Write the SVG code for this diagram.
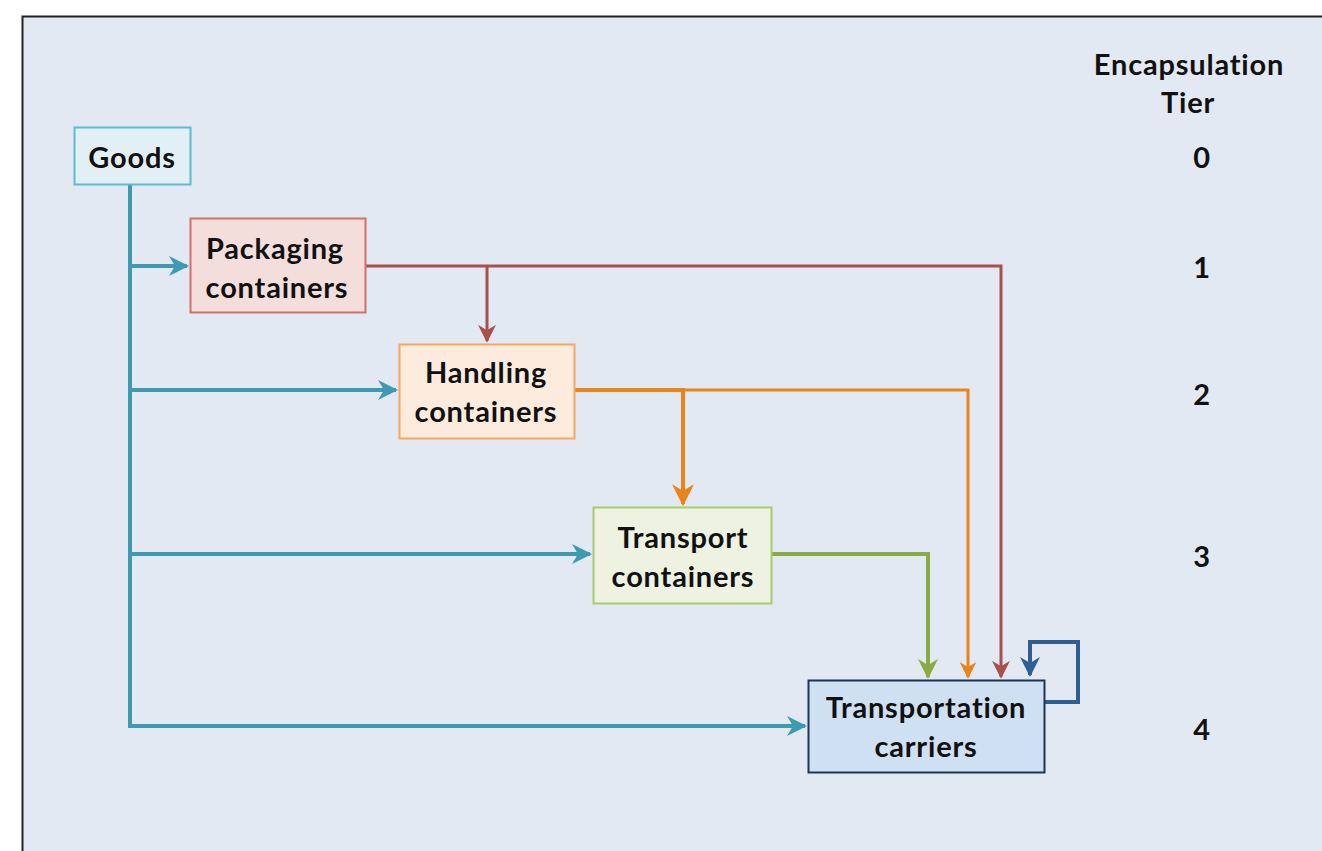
<svg xmlns="http://www.w3.org/2000/svg" width="1322" height="851" viewBox="0 0 1322 851">
<style>
.lbl{font-family:"Lato","Open Sans","Liberation Sans",sans-serif;font-weight:700;font-size:29px;letter-spacing:0.8px;fill:#111;text-anchor:middle}
.tier{font-family:"Lato","Open Sans","Liberation Sans",sans-serif;font-weight:700;font-size:29px;letter-spacing:0.8px;fill:#111;text-anchor:middle}
.c{fill:none;stroke-linejoin:miter}
</style>
<defs>
<marker id="aT" viewBox="0 0 10 10" refX="9" refY="5" markerWidth="5" markerHeight="5" orient="auto" markerUnits="strokeWidth"><path d="M0,0 L10,5 L0,10 L3,5 z" fill="#3E9AAE"/></marker>
<marker id="aR" viewBox="0 0 10 10" refX="9" refY="5" markerWidth="6" markerHeight="6" orient="auto" markerUnits="strokeWidth"><path d="M0,0 L10,5 L0,10 L3,5 z" fill="#A94F4C"/></marker>
<marker id="aO" viewBox="0 0 10 10" refX="9" refY="5" markerWidth="5.5" markerHeight="5.5" orient="auto" markerUnits="strokeWidth"><path d="M0,0 L10,5 L0,10 L3,5 z" fill="#E8841A"/></marker>
<marker id="aG" viewBox="0 0 10 10" refX="9" refY="5" markerWidth="5" markerHeight="5" orient="auto" markerUnits="strokeWidth"><path d="M0,0 L10,5 L0,10 L3,5 z" fill="#8AAA48"/></marker>
<marker id="aB" viewBox="0 0 10 10" refX="9" refY="5" markerWidth="5" markerHeight="5" orient="auto" markerUnits="strokeWidth"><path d="M0,0 L10,5 L0,10 L3,5 z" fill="#2E5E92"/></marker>
</defs>
<rect x="0" y="0" width="1322" height="851" fill="#ffffff"/>
<rect x="22.5" y="16.5" width="1320" height="850" fill="#E2E9F3" stroke="#222" stroke-width="2"/>

<g id="connectors">
<path class="c" d="M130,185 V726 H805" stroke="#3E9AAE" stroke-width="4" marker-end="url(#aT)"/>
<path class="c" d="M130,266 H187" stroke="#3E9AAE" stroke-width="4" marker-end="url(#aT)"/>
<path class="c" d="M130,390 H396" stroke="#3E9AAE" stroke-width="4" marker-end="url(#aT)"/>
<path class="c" d="M130,554 H590" stroke="#3E9AAE" stroke-width="4" marker-end="url(#aT)"/>
<path class="c" d="M366,266 H1001 V677" stroke="#A94F4C" stroke-width="3" marker-end="url(#aR)"/>
<path class="c" d="M487,266 V341" stroke="#A94F4C" stroke-width="3" marker-end="url(#aR)"/>
<path class="c" d="M575,390 H968 V677" stroke="#E8841A" stroke-width="3" marker-end="url(#aO)"/>
<path class="c" d="M575,390 H683 V504" stroke="#E8841A" stroke-width="4" marker-end="url(#aO)"/>
<path class="c" d="M772,554 H928 V677" stroke="#8AAA48" stroke-width="4" marker-end="url(#aG)"/>
<path class="c" d="M1045,702 H1078 V642 H1030 V675" stroke="#2E5E92" stroke-width="4" marker-end="url(#aB)"/>
</g>

<g id="goods">
<rect x="74.5" y="127.5" width="116" height="57" fill="#E2EFF5" stroke="#5CBBD0" stroke-width="2"/>
<text class="lbl" x="132" y="168">Goods</text>
</g>
<g id="packaging">
<rect x="190.5" y="218.5" width="175" height="94" fill="#F3DEDC" stroke="#D46F6B" stroke-width="2"/>
<text class="lbl" x="275" y="259">Packaging</text>
<text class="lbl" x="277" y="298">containers</text>
</g>
<g id="handling">
<rect x="399.5" y="344.5" width="175" height="94" fill="#FDECDD" stroke="#F8A65E" stroke-width="2"/>
<text class="lbl" x="486" y="383">Handling</text>
<text class="lbl" x="486" y="422">containers</text>
</g>
<g id="transport">
<rect x="593.5" y="507.5" width="178" height="96" fill="#EDF2E1" stroke="#A9CB6D" stroke-width="2"/>
<text class="lbl" x="683" y="548">Transport</text>
<text class="lbl" x="683" y="587">containers</text>
</g>
<g id="carriers">
<rect x="808.5" y="680.5" width="236" height="92" fill="#CFE0F3" stroke="#1F3556" stroke-width="2"/>
<text class="lbl" x="926" y="718">Transportation</text>
<text class="lbl" x="926" y="757">carriers</text>
</g>

<g id="tiers">
<text class="tier" x="1189" y="75">Encapsulation</text>
<text class="tier" x="1188" y="113">Tier</text>
<text class="tier" x="1202" y="168">0</text>
<text class="tier" x="1202" y="278">1</text>
<text class="tier" x="1202" y="405">2</text>
<text class="tier" x="1202" y="567">3</text>
<text class="tier" x="1202" y="740">4</text>
</g>
</svg>
